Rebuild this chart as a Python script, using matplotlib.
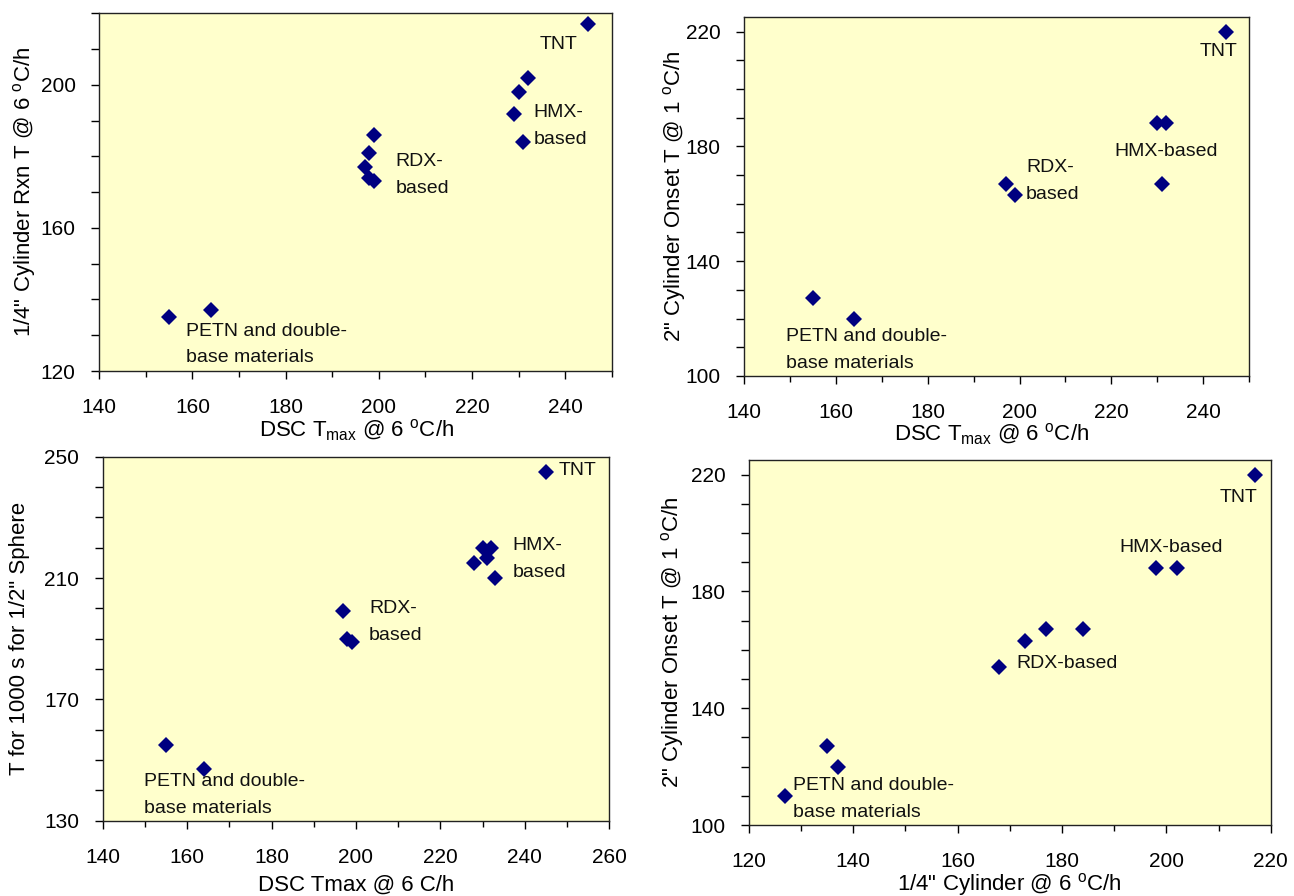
import matplotlib
matplotlib.use("Agg")
import matplotlib.pyplot as plt
import numpy as np

plt.rcParams['font.family'] = ['Liberation Sans', 'DejaVu Sans']
plt.rcParams['mathtext.fontset'] = 'custom'
plt.rcParams['mathtext.rm'] = 'Liberation Sans'
plt.rcParams['mathtext.it'] = 'Liberation Sans:italic'

# top left: DSC Tmax vs 1/4" cylinder reaction T
dsc_a = [155, 164, 199, 198, 197, 198, 199, 232, 230, 229, 231, 245]
cyl_quarter_a = [135, 137, 186, 181, 177, 174, 173, 202, 198, 192, 184, 217]

# top right: DSC Tmax vs 2" cylinder onset T
dsc_b = [155, 164, 197, 199, 230, 232, 231, 245]
cyl_two_b = [127, 120, 167, 163, 188, 188, 167, 220]

# bottom left: DSC Tmax vs T for 1000 s, 1/2" sphere
dsc_c = [155, 164, 197, 198, 199, 230, 232, 231, 228, 233, 245]
sphere_c = [155, 147, 199, 190, 189, 220, 220, 216.5, 215, 210, 245]

# bottom right: 1/4" cylinder vs 2" cylinder onset T
cyl_quarter_d = [127, 135, 137, 168, 173, 177, 184, 198, 202, 217]
cyl_two_d = [110, 127, 120, 154, 163, 167, 167, 188, 188, 220]

petn = "PETN and double-\nbase materials"

panels = [
    dict(x=dsc_a, y=cyl_quarter_a,
         rect=[0.0767, 0.5859, 0.3960, 0.3992],
         xlim=(140, 250), xmaj=np.arange(140, 241, 20),
         ylim=(120, 220), ymaj=np.arange(120, 201, 40), ymin0=120,
         xlabel=r'DSC T$_{\mathrm{max}}$ @ 6 $^{\mathrm{o}}$C/h',
         ylabel=r'1/4" Cylinder Rxn T @ 6 $^{\mathrm{o}}$C/h',
         xl=(0.502, -0.165), yl=(-0.146, 0.5),
         notes=[("TNT", 234.6, 211.2), ("HMX-\nbased", 233.2, 188.5),
                ("RDX-\nbased", 203.6, 174.8), (petn, 158.7, 127.4)]),
    dict(x=dsc_b, y=cyl_two_b,
         rect=[0.5750, 0.5804, 0.3903, 0.4003],
         xlim=(140, 250), xmaj=np.arange(140, 241, 20),
         ylim=(100, 225), ymaj=np.arange(100, 221, 40), ymin0=100,
         xlabel=r'DSC T$_{\mathrm{max}}$ @ 6 $^{\mathrm{o}}$C/h',
         ylabel=r'2" Cylinder Onset T @ 1 $^{\mathrm{o}}$C/h',
         xl=(0.49, -0.162), yl=(-0.137, 0.5),
         notes=[("TNT", 239.3, 213), ("HMX-based", 220.7, 178.1),
                ("RDX-\nbased", 201.4, 167.9), (petn, 149.1, 109.1)]),
    dict(x=dsc_c, y=sphere_c,
         rect=[0.0794, 0.0840, 0.3913, 0.4063],
         xlim=(140, 260), xmaj=np.arange(140, 261, 20),
         ylim=(130, 250), ymaj=np.arange(130, 251, 40), ymin0=130,
         xlabel='DSC Tmax @ 6 C/h',
         ylabel='T for 1000 s for 1/2" Sphere',
         xl=(0.5, -0.176), yl=(-0.164, 0.5),
         notes=[("TNT", 248, 245.3), ("HMX-\nbased", 237.1, 216.3),
                ("RDX-\nbased", 203.1, 195.5), (petn, 149.7, 138.5)]),
    dict(x=cyl_quarter_d, y=cyl_two_d,
         rect=[0.5788, 0.0792, 0.4032, 0.4074],
         xlim=(120, 220), xmaj=np.arange(120, 221, 20),
         ylim=(100, 225), ymaj=np.arange(100, 221, 40), ymin0=100,
         xlabel=r'1/4" Cylinder @ 6 $^{\mathrm{o}}$C/h',
         ylabel=r'2" Cylinder Onset T @ 1 $^{\mathrm{o}}$C/h',
         xl=(0.5, -0.164), yl=(-0.146, 0.5),
         notes=[("TNT", 210.2, 212.2), ("HMX-based", 191, 195.1),
                ("RDX-based", 171.2, 155.4), (petn, 128.5, 109)]),
]

fig = plt.figure(figsize=(12.94, 8.96), dpi=100)

for p in panels:
    ax = fig.add_axes(p['rect'])
    ax.set_facecolor('#FFFFCC')
    ax.plot(p['x'], p['y'], linestyle='none', marker='D', ms=8.5,
            color='#000080', markeredgewidth=0)
    ax.set_xlim(*p['xlim'])
    ax.set_ylim(*p['ylim'])
    ax.set_xticks(p['xmaj'])
    ax.set_xticks(np.arange(p['xlim'][0], p['xlim'][1] + 1, 10), minor=True)
    ax.set_yticks(p['ymaj'])
    ax.set_yticks(np.arange(p['ymin0'], p['ylim'][1] + 1, 10), minor=True)
    ax.tick_params(axis='x', which='major', direction='out', length=5.5,
                   width=1, pad=14, labelsize=15)
    ax.tick_params(axis='x', which='minor', direction='out', length=4, width=1)
    ax.tick_params(axis='y', which='both', direction='out', length=5.5,
                   width=1, pad=11.5, labelsize=15)
    for s in ax.spines.values():
        s.set_color('#222222')
        s.set_linewidth(1.0)
    ax.set_xlabel(p['xlabel'], fontsize=16)
    ax.set_ylabel(p['ylabel'], fontsize=16)
    ax.xaxis.set_label_coords(*p['xl'])
    ax.yaxis.set_label_coords(*p['yl'])
    ax.xaxis.label.set_va('center')
    ax.yaxis.label.set_va('center')
    for txt, tx, ty in p['notes']:
        ax.text(tx, ty, txt, fontsize=14, ha='left', va='center',
                linespacing=1.75, color='#111111')

fig.savefig('out.png', dpi=100)
